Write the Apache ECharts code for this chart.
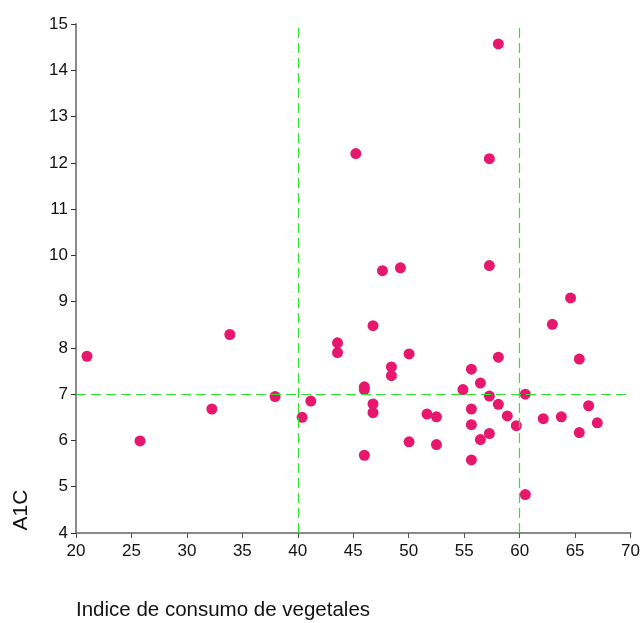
<!DOCTYPE html>
<html>
<head>
<meta charset="utf-8">
<script src="https://cdn.jsdelivr.net/npm/echarts@6/dist/echarts.min.js"></script>
<style>html,body{margin:0;padding:0;background:#fff}#c{width:643px;height:623px}</style>
</head>
<body>
<div id="c"></div>
<script>
const vegIndex = [20.99,25.77,32.25,33.87,37.95,40.39,41.17,43.58,43.58,45.23,46.0,46.0,46.0,46.78,46.78,46.78,47.63,48.44,48.44,49.25,50.03,50.03,51.65,52.5,52.5,54.89,55.65,55.65,55.65,55.65,56.46,56.46,57.27,57.27,57.27,57.27,58.08,58.08,58.08,58.89,59.70,60.51,60.51,62.13,62.95,63.76,64.59,65.38,65.38,66.22,67.0];
const a1c = [7.82,5.99,6.68,8.29,6.95,6.50,6.85,8.11,7.90,12.20,7.16,7.10,5.68,8.48,6.79,6.60,9.67,7.59,7.40,9.73,7.87,5.97,6.57,6.51,5.91,7.10,7.54,6.68,6.34,5.58,7.24,6.02,12.09,9.78,6.96,6.15,14.57,7.80,6.78,6.53,6.32,7.00,4.83,6.47,8.51,6.51,9.08,7.76,6.17,6.75,6.38];
const refX = [40, 60];
const refY = [7];
const xAxisName = 'Indice de consumo de vegetales';
const yAxisName = 'A1C';

const points = vegIndex.map((v, i) => [v, a1c[i]]);
const chart = echarts.init(document.getElementById('c'), null, {renderer: 'canvas'});
const font = 'Liberation Sans, Arial, sans-serif';
const green = '#2DE52D';
chart.setOption({
  animation: false,
  grid: {left: 76, right: 12, top: 24, bottom: 90},
  xAxis: {
    type: 'value', min: 20, max: 70, interval: 5,
    axisLine: {show: true, lineStyle: {color: '#8a8a8a', width: 2}},
    axisTick: {show: true, length: 5, lineStyle: {color: '#555', width: 1}},
    axisLabel: {color: '#111', fontSize: 17, fontFamily: font, margin: 10},
    splitLine: {show: false}
  },
  yAxis: {
    type: 'value', min: 4, max: 15, interval: 1,
    axisLine: {show: true, lineStyle: {color: '#8a8a8a', width: 2}},
    axisTick: {show: true, length: 5, lineStyle: {color: '#333', width: 1}},
    axisLabel: {color: '#111', fontSize: 17, fontFamily: font, margin: 8},
    splitLine: {show: false}
  },
  graphic: [
    {type: 'text', x: 21, y: 510, rotation: Math.PI / 2,
     style: {text: yAxisName, font: '21px ' + font, fill: '#111', textAlign: 'center', textVerticalAlign: 'middle'}},
    {type: 'text', x: 76, y: 610,
     style: {text: xAxisName, font: '20.5px ' + font, fill: '#111', textAlign: 'left', textVerticalAlign: 'middle'}}
  ],
  series: [{
    type: 'scatter',
    data: points,
    symbol: 'circle',
    symbolSize: 11,
    itemStyle: {color: '#E8176E', opacity: 1},
    z: 3,
    markLine: {
      silent: true,
      symbol: 'none',
      label: {show: false},
      lineStyle: {color: green, type: [10, 5], width: 1.2},
      data: refX.map(v => ({xAxis: v})).concat(refY.map(v => ({yAxis: v})))
    }
  }]
});
</script>
</body>
</html>
